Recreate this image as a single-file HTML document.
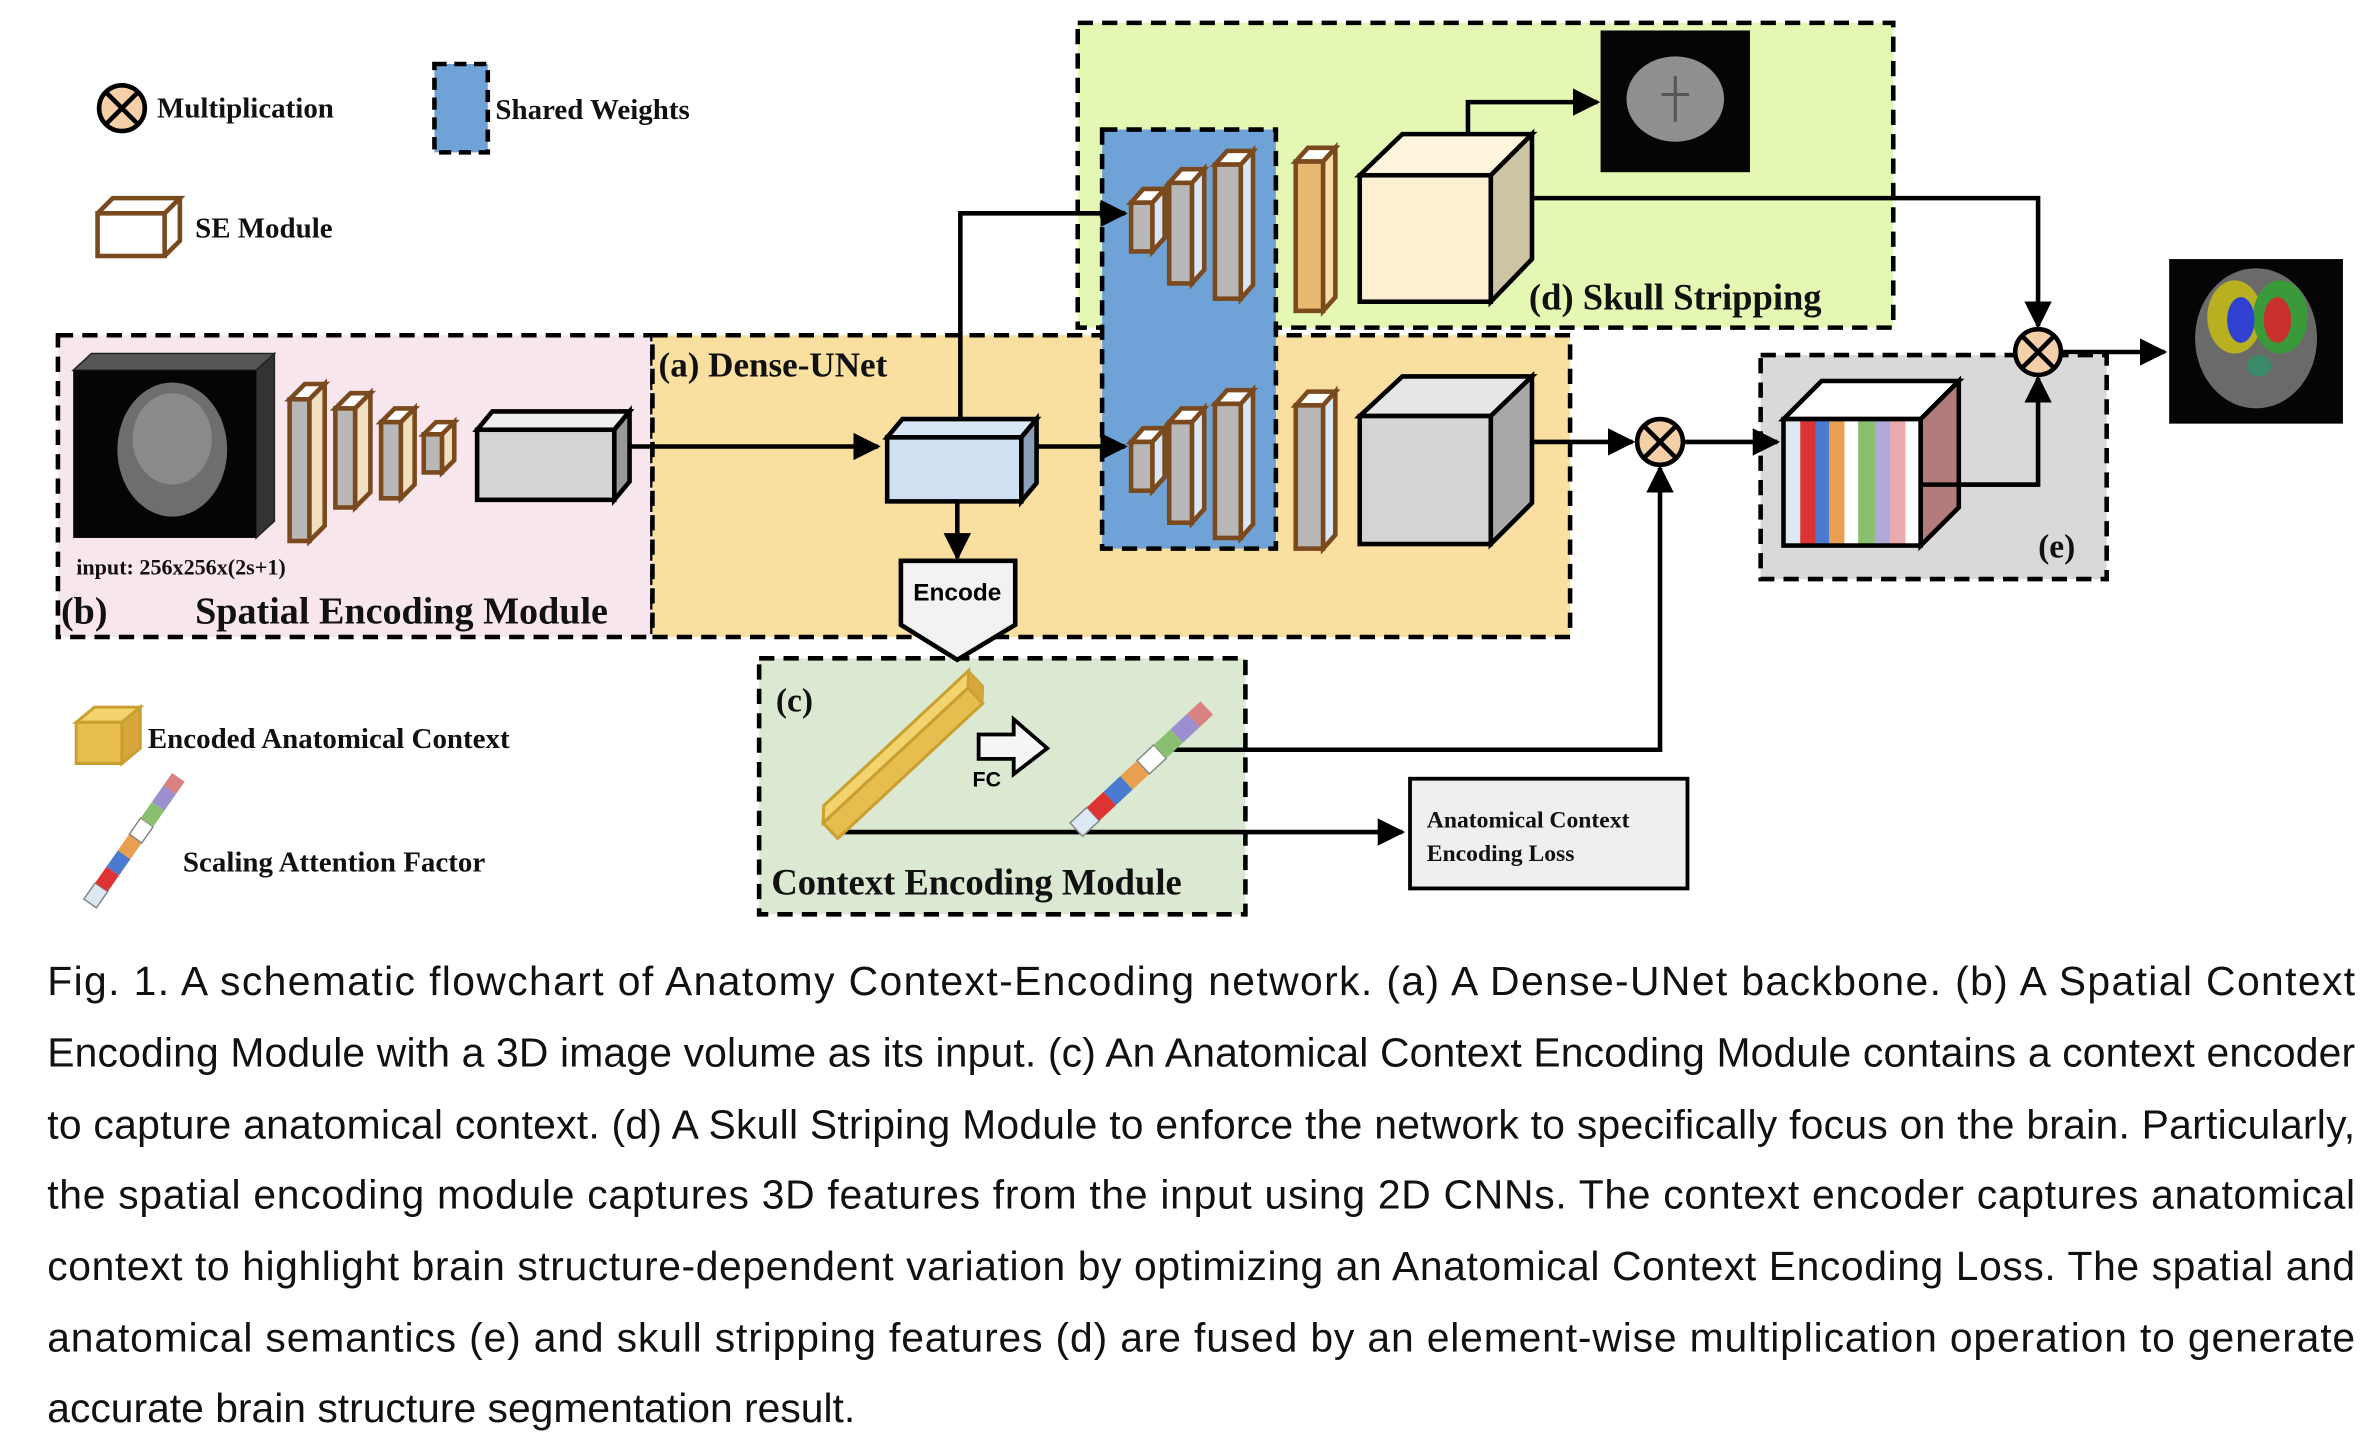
<!DOCTYPE html>
<html><head><meta charset="utf-8"><style>
html,body{margin:0;padding:0;background:#fff;}
svg{display:block;}
.s{font-family:"Liberation Serif",serif;font-weight:bold;fill:#111;}
.c{font-family:"Liberation Sans",sans-serif;font-size:26.8px;fill:#111;}
</style></head><body>
<svg width="2378" height="1434" viewBox="0 0 1560 941" preserveAspectRatio="none" xmlns="http://www.w3.org/2000/svg">
<defs>
<marker id="ah" viewBox="0 0 10 10" refX="9" refY="5" markerWidth="6" markerHeight="6" orient="auto-start-reverse" markerUnits="strokeWidth"><path d="M0,0 L10,5 L0,10 z" fill="#000"/></marker>
</defs>
<rect x="707" y="15" width="535" height="200" fill="#e4f8b4" stroke="#000" stroke-width="3" stroke-dasharray="10,6"/>
<rect x="38" y="220" width="390" height="198" fill="#f8e6ee" stroke="#000" stroke-width="3" stroke-dasharray="10,6"/>
<rect x="428" y="220" width="602" height="198" fill="#f9dfa0" stroke="#000" stroke-width="3" stroke-dasharray="10,6"/>
<rect x="723" y="85" width="114" height="275" fill="#6fa3d8" stroke="#000" stroke-width="3" stroke-dasharray="10,6"/>
<rect x="1155" y="233" width="227" height="147" fill="#d9d9d9" stroke="#000" stroke-width="3" stroke-dasharray="10,6"/>
<rect x="498" y="432" width="319" height="168" fill="#dbe8d2" stroke="#000" stroke-width="3" stroke-dasharray="10,6"/>
<rect x="925" y="511" width="182" height="72" fill="#efefef" stroke="#000" stroke-width="2.5"/>

<circle cx="80" cy="71" r="15" fill="#f5cfa8" stroke="#000" stroke-width="3"/>
<path d="M70,61 L90,81 M90,61 L70,81" stroke="#000" stroke-width="3"/>
<text x="103" y="77" class="s" font-size="19">Multiplication</text>
<rect x="285" y="42" width="35" height="58" fill="#6fa3d8" stroke="#000" stroke-width="3" stroke-dasharray="8,5"/>
<text x="325" y="78" class="s" font-size="19">Shared Weights</text>
<path d="M64,140 L108,140 L108,168 L64,168 Z" fill="#fff" stroke="#7a4a1e" stroke-width="3"/>
<path d="M64,140 L74,130 L118,130 L108,140 M108,168 L118,158 L118,130" fill="none" stroke="#7a4a1e" stroke-width="3"/>
<text x="128" y="156" class="s" font-size="19">SE Module</text>
<path d="M50,474 L80,474 L92,464 L62,464 Z" fill="#f3d36e" stroke="#c9a030" stroke-width="2"/>
<rect x="50" y="474" width="30" height="27" fill="#e7bd4f" stroke="#c9a030" stroke-width="2"/>
<path d="M80,501 L92,491 L92,464 L80,474Z" fill="#d7a73c" stroke="#c9a030" stroke-width="2"/>
<text x="97" y="491" class="s" font-size="19">Encoded Anatomical Context</text>
<g transform="translate(55,590) rotate(-55)">
<rect x="0" y="0" width="13" height="10" fill="#dde8f5" stroke="#888"/><rect x="13" y="0" width="13" height="10" fill="#d33"/><rect x="26" y="0" width="13" height="10" fill="#4a7bd0"/><rect x="39" y="0" width="13" height="10" fill="#e8a050"/><rect x="52" y="0" width="13" height="10" fill="#fff" stroke="#888"/><rect x="65" y="0" width="13" height="10" fill="#8abf70"/><rect x="78" y="0" width="13" height="10" fill="#9b8fcf"/><rect x="91" y="0" width="10" height="10" fill="#d98080"/>
</g>
<text x="120" y="572" class="s" font-size="19">Scaling Attention Factor</text>

<path d="M48,243 L60,232 L180,232 L168,243Z" fill="#555" stroke="#222"/>
<path d="M168,243 L180,232 L180,342 L168,353Z" fill="#333" stroke="#222"/>
<rect x="48" y="243" width="120" height="110" fill="#050505"/>
<ellipse cx="113" cy="295" rx="36" ry="44" fill="#6e6e6e"/>
<ellipse cx="113" cy="288" rx="26" ry="30" fill="#8a8a8a"/>
<text x="50" y="377" class="s" font-size="14.5">input: 256x256x(2s+1)</text>
<text x="40" y="409" class="s" font-size="25" font-weight="normal">(b)</text>
<text x="128" y="409" class="s" font-size="25">Spatial Encoding Module</text>
<text x="432" y="247" class="s" font-size="23">(a)  Dense-UNet</text>

<g stroke="#7a4a1e" stroke-width="3" fill="#b8b8b8">
<path d="M190,262 L200,252 L213,252 L203,262Z" fill="#fff"/><rect x="190" y="262" width="13" height="93"/><path d="M203,262 L213,252 L213,345 L203,355Z" fill="#f0e0c0"/>
<path d="M220,268 L230,258 L243,258 L233,268Z" fill="#fff"/><rect x="220" y="268" width="13" height="65"/><path d="M233,268 L243,258 L243,323 L233,333Z" fill="#f0e0c0"/>
<path d="M250,277 L259,268 L272,268 L263,277Z" fill="#fff"/><rect x="250" y="277" width="13" height="50"/><path d="M263,277 L272,268 L272,318 L263,327Z" fill="#f0e0c0"/>
<path d="M278,285 L286,277 L298,277 L290,285Z" fill="#fff"/><rect x="278" y="285" width="12" height="25"/><path d="M290,285 L298,277 L298,302 L290,310Z" fill="#f0e0c0"/>
</g>
<g stroke="#000" stroke-width="3">
<path d="M313,282 L323,270 L413,270 L403,282Z" fill="#eee"/><rect x="313" y="282" width="90" height="46" fill="#d4d4d4"/><path d="M403,282 L413,270 L413,316 L403,328Z" fill="#999"/>
</g>
<g stroke="#000" stroke-width="3" fill="none">
<line x1="413" y1="293" x2="576" y2="293" marker-end="url(#ah)"/>
<line x1="676" y1="293" x2="738" y2="293" marker-end="url(#ah)"/>
<polyline points="630,275 630,140 738,140" marker-end="url(#ah)"/>
<line x1="628" y1="330" x2="628" y2="366" marker-end="url(#ah)"/>
<polyline points="963,90 963,67 1048,67" marker-end="url(#ah)"/>
<polyline points="1005,130 1337,130 1337,214" marker-end="url(#ah)"/>
<line x1="1005" y1="290" x2="1071" y2="290" marker-end="url(#ah)"/>
<line x1="1104" y1="290" x2="1166" y2="290" marker-end="url(#ah)"/>
<polyline points="1260,318 1337,318 1337,248" marker-end="url(#ah)"/>
<line x1="1352" y1="231" x2="1420" y2="231" marker-end="url(#ah)"/>
<polyline points="770,492 1089,492 1089,307" marker-end="url(#ah)"/>
<polyline points="547,538 547,546 920,546" marker-end="url(#ah)"/>
</g>
<g stroke="#000" stroke-width="3">
<path d="M582,287 L592,275 L680,275 L670,287Z" fill="#d8e6f5"/><rect x="582" y="287" width="88" height="42" fill="#cfe0f2"/><path d="M670,287 L680,275 L680,317 L670,329Z" fill="#8aa0b8"/>
</g>
<path d="M591,368 L666,368 L666,410 L628,433 L591,410Z" fill="#f2f2f2" stroke="#000" stroke-width="3"/>
<text x="628" y="394" text-anchor="middle" font-family="Liberation Sans,sans-serif" font-weight="bold" font-size="16">Encode</text>

<g stroke="#7a4a1e" stroke-width="3" fill="#b8b8b8">
<g id="sb">
<path d="M742,133 L750,124 L764,124 L756,133Z" fill="#fff"/><rect x="742" y="133" width="14" height="32"/><path d="M756,133 L764,124 L764,156 L756,165Z" fill="#d8e6f5"/>
<path d="M767,120 L775,111 L790,111 L782,120Z" fill="#fff"/><rect x="767" y="120" width="15" height="66"/><path d="M782,120 L790,111 L790,177 L782,186Z" fill="#d8e6f5"/>
<path d="M797,108 L805,99 L822,99 L814,108Z" fill="#fff"/><rect x="797" y="108" width="17" height="88"/><path d="M814,108 L822,99 L822,187 L814,196Z" fill="#d8e6f5"/>
</g>
<use href="#sb" transform="translate(0,157)"/>
<path d="M850,106 L858,97 L876,97 L868,106Z" fill="#fff"/><rect x="850" y="106" width="18" height="98" fill="#e8b870"/><path d="M868,106 L876,97 L876,195 L868,204Z" fill="#f8dca8"/>
<path d="M850,266 L858,257 L876,257 L868,266Z" fill="#fff"/><rect x="850" y="266" width="18" height="94" fill="#b8b8b8"/><path d="M868,266 L876,257 L876,351 L868,360Z" fill="#d8e6f5"/>
</g>
<g stroke="#000" stroke-width="3">
<path d="M892,115 L920,88 L1005,88 L978,115Z" fill="#fff5dd"/><rect x="892" y="115" width="86" height="83" fill="#fdf0d2"/><path d="M978,115 L1005,88 L1005,170 L978,198Z" fill="#cdc4a4"/>
<path d="M892,273 L920,247 L1005,247 L978,273Z" fill="#e6e6e6"/><rect x="892" y="273" width="86" height="84" fill="#d4d4d4"/><path d="M978,273 L1005,247 L1005,330 L978,357Z" fill="#a8a8a8"/>
</g>
<rect x="1050" y="20" width="98" height="93" fill="#050505"/>
<ellipse cx="1099" cy="65" rx="32" ry="28" fill="#8f8f8f"/>
<path d="M1099,50 L1099,80 M1090,62 L1108,62" stroke="#555" stroke-width="2"/>
<text x="1003" y="203" class="s" font-size="24">(d)  Skull Stripping</text>
<g stroke="#000" stroke-width="3">
<circle cx="1089" cy="290" r="15" fill="#f5cfa8"/><path d="M1078,279 L1100,301 M1100,279 L1078,301"/>
<circle cx="1337" cy="231" r="15" fill="#f5cfa8"/><path d="M1326,220 L1348,242 M1348,220 L1326,242"/>
</g>
<path d="M1170,275 L1195,250 L1285,250 L1260,275Z" fill="#fff" stroke="#000" stroke-width="3"/>
<g stroke="none">
<rect x="1171" y="275" width="10" height="83" fill="#dde8f5"/><rect x="1181" y="275" width="10" height="83" fill="#d33"/><rect x="1191" y="275" width="9" height="83" fill="#4a7bd0"/><rect x="1200" y="275" width="10" height="83" fill="#e8a050"/><rect x="1210" y="275" width="9" height="83" fill="#fff"/><rect x="1219" y="275" width="11" height="83" fill="#8abf70"/><rect x="1230" y="275" width="10" height="83" fill="#b0a8d8"/><rect x="1240" y="275" width="10" height="83" fill="#e8aaaa"/><rect x="1250" y="275" width="10" height="83" fill="#fff"/>
</g>
<rect x="1170" y="275" width="90" height="83" fill="none" stroke="#000" stroke-width="3"/>
<path d="M1260,275 L1285,250 L1285,333 L1260,358Z" fill="#b07b78" stroke="#000" stroke-width="3"/>
<line x1="1260" y1="318" x2="1337" y2="318" stroke="#000" stroke-width="3"/>
<text x="1337" y="366" class="s" font-size="22" font-weight="normal">(e)</text>
<rect x="1423" y="170" width="114" height="108" fill="#050505"/>
<ellipse cx="1480" cy="222" rx="40" ry="46" fill="#6a6a6a"/>
<ellipse cx="1466" cy="208" rx="18" ry="24" fill="#b8b020"/>
<ellipse cx="1496" cy="208" rx="18" ry="24" fill="#3a9a3a"/>
<ellipse cx="1470" cy="210" rx="9" ry="15" fill="#3040d0"/>
<ellipse cx="1494" cy="210" rx="9" ry="15" fill="#c83030"/>
<ellipse cx="1482" cy="240" rx="8" ry="7" fill="#3a8a6a"/>
<text x="509" y="467" class="s" font-size="22" font-weight="normal">(c)</text>
<g transform="translate(540,540) rotate(-43)">
<rect x="0" y="0" width="130" height="14" fill="#e7bd4f" stroke="#c9a030" stroke-width="2"/>
<path d="M0,0 L8,-8 L138,-8 L130,0Z" fill="#f3d36e" stroke="#c9a030" stroke-width="2"/>
<path d="M130,0 L138,-8 L138,6 L130,14Z" fill="#d7a73c" stroke="#c9a030"/>
</g>
<path d="M642,482 L665,482 L665,472 L687,491 L665,508 L665,498 L642,498Z" fill="#f5f5f5" stroke="#000" stroke-width="2.5"/>
<text x="638" y="516" font-family="Liberation Sans,sans-serif" font-weight="bold" font-size="14">FC</text>
<g transform="translate(702,540) rotate(-43)">
<rect x="0" y="0" width="15" height="12" fill="#dde8f5" stroke="#888"/><rect x="15" y="0" width="15" height="12" fill="#d33"/><rect x="30" y="0" width="15" height="12" fill="#4a7bd0"/><rect x="45" y="0" width="15" height="12" fill="#e8a050"/><rect x="60" y="0" width="15" height="12" fill="#fff" stroke="#888"/><rect x="75" y="0" width="15" height="12" fill="#8abf70"/><rect x="90" y="0" width="15" height="12" fill="#9b8fcf"/><rect x="105" y="0" width="12" height="12" fill="#d98080"/>
</g>
<text x="506" y="587" class="s" font-size="24">Context Encoding Module</text>
<text x="936" y="543" class="s" font-size="15.5">Anatomical Context</text>
<text x="936" y="565" class="s" font-size="15.5">Encoding Loss</text>

<text class="c" x="31" y="653" textLength="1514" lengthAdjust="spacing">Fig. 1. A schematic flowchart of Anatomy Context-Encoding network. (a) A Dense-UNet backbone. (b) A Spatial Context</text>
<text class="c" x="31" y="700" textLength="1514" lengthAdjust="spacing">Encoding Module with a 3D image volume as its input. (c) An Anatomical Context Encoding Module contains a context encoder</text>
<text class="c" x="31" y="747" textLength="1514" lengthAdjust="spacing">to capture anatomical context. (d) A Skull Striping Module to enforce the network to specifically focus on the brain. Particularly,</text>
<text class="c" x="31" y="793" textLength="1514" lengthAdjust="spacing">the spatial encoding module captures 3D features from the input using 2D CNNs. The context encoder captures anatomical</text>
<text class="c" x="31" y="840" textLength="1514" lengthAdjust="spacing">context to highlight brain structure-dependent variation by optimizing an Anatomical Context Encoding Loss. The spatial and</text>
<text class="c" x="31" y="887" textLength="1514" lengthAdjust="spacing">anatomical semantics (e) and skull stripping features (d) are fused by an element-wise multiplication operation to generate</text>
<text class="c" x="31" y="933">accurate brain structure segmentation result.</text>
</svg>
</body></html>
